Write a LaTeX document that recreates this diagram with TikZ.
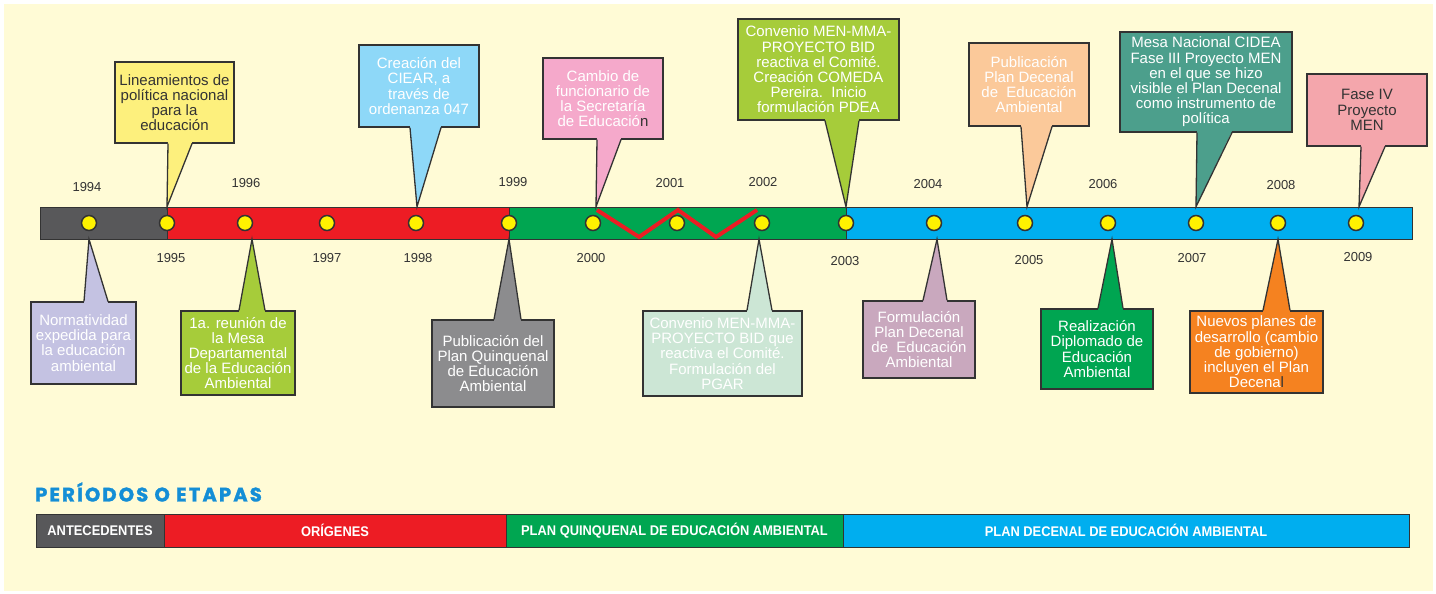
\documentclass[tikz,border=0pt]{standalone}
\usepackage{fontspec}
\setmainfont{Liberation Sans}
\newfontfamily\narrowfont[FakeStretch=0.92]{Liberation Sans}
\newfontfamily\titlefont[LetterSpace=11,FakeBold=1.5]{Poppins}
\usepackage{xcolor}
\usetikzlibrary{calc}

\definecolor{cream}{RGB}{255,251,214}
\definecolor{ink}{RGB}{51,51,51}
\definecolor{bargray}{RGB}{88,88,90}
\definecolor{barred}{RGB}{237,28,36}
\definecolor{bargreen}{RGB}{0,166,81}
\definecolor{barblue}{RGB}{0,174,239}
\definecolor{dotyellow}{RGB}{255,242,0}
\definecolor{cyellow}{RGB}{253,240,125}
\definecolor{cblue}{RGB}{142,216,248}
\definecolor{cpink}{RGB}{245,169,203}
\definecolor{clime}{RGB}{166,204,58}
\definecolor{cpeach}{RGB}{251,201,154}
\definecolor{cteal}{RGB}{76,159,140}
\definecolor{csalmon}{RGB}{244,166,172}
\definecolor{clavender}{RGB}{196,194,226}
\definecolor{cgray}{RGB}{140,140,142}
\definecolor{cmint}{RGB}{204,230,213}
\definecolor{cmauve}{RGB}{201,168,190}
\definecolor{cgreen}{RGB}{0,165,81}
\definecolor{corange}{RGB}{245,130,32}
\definecolor{ctitle}{RGB}{20,142,214}

\tikzstyle{callout}=[
    rectangle,
    draw=ink,
    line width=1.3pt,
    text=white,
    align=center,
    inner sep=0pt,
    font=\fontsize{15}{15.2}\selectfont]
\tikzstyle{edge}=[draw=ink,line width=1.3pt,line join=miter]
\tikzstyle{yeardot}=[circle,fill=dotyellow,draw=ink,line width=1.5pt,minimum size=15pt,inner sep=0pt]
\tikzstyle{year}=[text=ink,inner sep=0pt,font=\fontsize{13}{13}\selectfont]
\tikzstyle{period}=[rectangle,draw=ink,line width=0.8pt,text=white,inner sep=0pt,minimum height=33pt,
    font=\narrowfont\bfseries\fontsize{14}{14}\selectfont]

% pointer of a box above the bar / below the bar
\newcommand{\pointerdown}[5]{%
  \fill[#1] ($(#2.south)+(#3,-1.5)$) -- (#5) -- ($(#2.south)+(#4,-1.5)$) -- cycle;
  \draw[edge] ($(#2.south)+(#3,0)$) -- (#5) -- ($(#2.south)+(#4,0)$);}
\newcommand{\pointerup}[5]{%
  \fill[#1] ($(#2.north)+(#3,1.5)$) -- (#5) -- ($(#2.north)+(#4,1.5)$) -- cycle;
  \draw[edge] ($(#2.north)+(#3,0)$) -- (#5) -- ($(#2.north)+(#4,0)$);}

\begin{document}
\begin{tikzpicture}[x=1pt,y=1pt,yscale=-1,xscale=1]
\useasboundingbox (0,0) rectangle (1436,594);
\fill[white] (0,0) rectangle (1436,594);
\fill[cream] (4,4) rectangle (1433,591);

%Timeline bar
\draw[fill=bargray,draw=ink,line width=0.8pt] (40,207) rectangle (167,239);
\draw[fill=barred,draw=ink,line width=0.8pt] (167,207) rectangle (509,239);
\draw[fill=bargreen,draw=ink,line width=0.8pt] (509,207) rectangle (846,239);
\draw[fill=barblue,draw=ink,line width=0.8pt] (846,207) rectangle (1412,239);
%Zigzag
\draw[barred,line width=4pt,line join=miter] (597,210) -- (639,237) -- (678,210) -- (716,237) -- (757,210);

%Year dots
\node[yeardot] (d1994) at (89,223) {};
\node[yeardot] (d1995) at (167,223) {};
\node[yeardot] (d1996) at (245,223) {};
\node[yeardot] (d1997) at (327,223) {};
\node[yeardot] (d1998) at (416,223) {};
\node[yeardot] (d1999) at (509,223) {};
\node[yeardot] (d2000) at (593,223) {};
\node[yeardot] (d2001) at (677,223) {};
\node[yeardot] (d2002) at (762,223) {};
\node[yeardot] (d2003) at (846,223) {};
\node[yeardot] (d2004) at (934,223) {};
\node[yeardot] (d2005) at (1025,223) {};
\node[yeardot] (d2006) at (1108,223) {};
\node[yeardot] (d2007) at (1196,223) {};
\node[yeardot] (d2008) at (1278,223) {};
\node[yeardot] (d2009) at (1356,223) {};

% Year labels
\node[year] (l1994) at (87,187) {1994};
\node[year] (l1995) at (171,258) {1995};
\node[year] (l1996) at (246,183) {1996};
\node[year] (l1997) at (327,258) {1997};
\node[year] (l1998) at (418,258) {1998};
\node[year] (l1999) at (513,182) {1999};
\node[year] (l2000) at (591,258) {2000};
\node[year] (l2001) at (670,183) {2001};
\node[year] (l2002) at (763,182) {2002};
\node[year] (l2003) at (845,261) {2003};
\node[year] (l2004) at (928,184) {2004};
\node[year] (l2005) at (1029,260) {2005};
\node[year] (l2006) at (1103,184) {2006};
\node[year] (l2007) at (1192,258) {2007};
\node[year] (l2008) at (1281,185) {2008};
\node[year] (l2009) at (1358,257) {2009};

%Callouts above the bar
\node[callout,fill=cyellow,text=ink,minimum width=119pt,minimum height=81pt] (c1995) at (174.5,102.5)
  {Lineamientos de\\política nacional\\para la\\educación};
\pointerdown{cyellow}{c1995}{-6.5}{17.5}{$(d1995.north)+(0,-8)$}
\node[callout,fill=cblue,minimum width=120pt,minimum height=82pt] (c1998) at (419,86)
  {Creación del\\CIEAR, a\\través de\\ordenanza 047};
\pointerdown{cblue}{c1998}{-9}{22}{$(d1998.north)+(1,-8)$}
\node[callout,fill=cpink,minimum width=120pt,minimum height=81pt] (c2000) at (603,98.5)
  {Cambio de\\funcionario de\\la Secretaría\\de Educació\textcolor{ink}{n}};
\pointerdown{cpink}{c2000}{-6}{18}{$(d2000.north)+(3,-8)$}
\node[callout,fill=clime,minimum width=161pt,minimum height=101pt] (c2003) at (818.5,69.5)
  {Convenio MEN-MMA-\\PROYECTO BID\\reactiva el Comité.\\Creación COMEDA\\Pereira.\ \ Inicio\\formulación PDEA};
\pointerdown{clime}{c2003}{6.5}{40.5}{$(d2003.north)+(0,-8)$}
\node[callout,fill=cpeach,minimum width=120pt,minimum height=83pt] (c2005) at (1029,84.5)
  {Publicación\\Plan Decenal\\de\ \ Educación\\Ambiental};
\pointerdown{cpeach}{c2005}{-8}{23}{$(d2005.north)+(2,-8)$}
\node[callout,fill=cteal,minimum width=172pt,minimum height=100pt] (c2007) at (1206,82)
  {Mesa Nacional CIDEA\\Fase III Proyecto MEN\\en el que se hizo\\visible el Plan Decenal\\como instrumento de\\política};
\pointerdown{cteal}{c2007}{-9}{26}{$(d2007.north)+(0,-8)$}
\node[callout,fill=csalmon,text=ink,minimum width=120pt,minimum height=72pt] (c2009) at (1367,110)
  {Fase IV\\Proyecto\\MEN};
\pointerdown{csalmon}{c2009}{-6}{18}{$(d2009.north)+(3,-8)$}

%Callouts below the bar
\node[callout,fill=clavender,minimum width=105pt,minimum height=82pt] (c1994) at (83.5,343)
  {Normatividad\\expedida para\\la educación\\ambiental};
\pointerup{clavender}{c1994}{0.5}{24.5}{$(d1994.south)+(0,8)$}
\node[callout,fill=clime,minimum width=114pt,minimum height=84pt] (c1996) at (238,353)
  {1a. reunión de\\la Mesa\\Departamental\\de la Educación\\Ambiental};
\pointerup{clime}{c1996}{1}{27}{$(d1996.south)+(7,8)$}
\node[callout,fill=cgray,minimum width=122pt,minimum height=87pt] (c1999) at (493,363.5)
  {Publicación del\\Plan Quinquenal\\de Educación\\Ambiental};
\pointerup{cgray}{c1999}{1}{28}{$(d1999.south)+(0,8)$}
\node[callout,fill=cmint,minimum width=159pt,minimum height=85pt] (c2002) at (722.5,353.5)
  {Convenio MEN-MMA-\\PROYECTO BID que\\reactiva el Comité.\\Formulación del\\PGAR};
\pointerup{cmint}{c2002}{24.5}{49.5}{$(d2002.south)+(-3,8)$}
\node[callout,fill=cmauve,minimum width=112pt,minimum height=77pt] (c2004) at (919,339.5)
  {Formulación\\Plan Decenal\\de\ \ Educación\\Ambiental};
\pointerup{cmauve}{c2004}{4}{28}{$(d2004.south)+(3,8)$}
\node[callout,fill=cgreen,minimum width=112pt,minimum height=80pt] (c2006) at (1097,349)
  {Realización\\Diplomado de\\Educación\\Ambiental};
\pointerup{cgreen}{c2006}{1}{26}{$(d2006.south)+(4,8)$}
\node[callout,fill=corange,minimum width=133pt,minimum height=82pt] (c2008) at (1256.5,352)
  {Nuevos planes de\\desarrollo (cambio\\de gobierno)\\incluyen el Plan\\Decena\textcolor{ink}{l}};
\pointerup{corange}{c2008}{6.5}{33.5}{$(d2008.south)+(0,8)$}

% Text Node
\node[anchor=west,inner sep=0pt,text=ctitle,font=\titlefont\bfseries\fontsize{19.5}{19.5}\selectfont] (title) at (35,492) {PERÍODOS O ETAPAS};

%Periods
\node[period,fill=bargray,minimum width=128pt] (p1) at (100,530.5) {ANTECEDENTES};
\node[period,fill=barred,minimum width=342pt] (p2) at (335,530.5) {ORÍGENES};
\node[period,fill=bargreen,minimum width=337pt] (p3) at (674.5,530.5) {PLAN QUINQUENAL DE EDUCACIÓN AMBIENTAL};
\node[period,fill=barblue,minimum width=566pt] (p4) at (1126,530.5) {PLAN DECENAL DE EDUCACIÓN AMBIENTAL};

\end{tikzpicture}
\end{document}
